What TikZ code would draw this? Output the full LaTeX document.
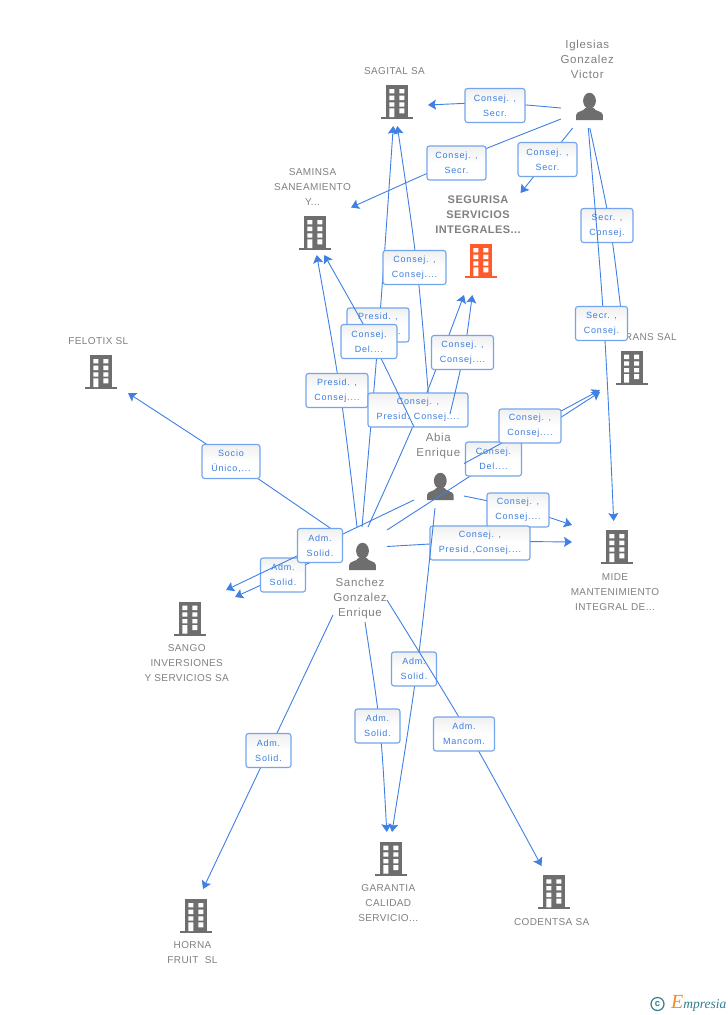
\documentclass[tikz,border=0pt]{standalone}
\usepackage{fontspec}
\usetikzlibrary{arrows.meta}
\setmainfont{Liberation Sans}
\newfontfamily\lblfont[LetterSpace=9]{Liberation Sans}
\newfontfamily\compfont[LetterSpace=4]{Liberation Sans}
\newfontfamily\persfont[LetterSpace=6]{Liberation Sans}
\newfontfamily\logofont{Liberation Serif}
\definecolor{edgeblue}{HTML}{3F80E4}
\definecolor{lblborder}{HTML}{74A5EC}
\definecolor{lbltext}{HTML}{3B7DE0}
\definecolor{namegray}{HTML}{808080}
\definecolor{icongray}{HTML}{6E6E6E}
\definecolor{segorange}{HTML}{FF5A2C}
\definecolor{logoteal}{HTML}{2F7F8F}
\definecolor{logoorange}{HTML}{F58A1F}
\newcommand{\bldgshape}[1]{%
  \fill[#1] (-11,-34) rectangle (11,-2);
  \fill[#1] (-16,-2) rectangle (16,0);
  \fill[white] (-7.7,-30) rectangle (-2.7,-25.7) (2.3,-30) rectangle (7.3,-25.7)
    (-7.7,-23.3) rectangle (-2.7,-19) (2.3,-23.3) rectangle (7.3,-19)
    (-7.7,-16.7) rectangle (-2.7,-12.3) (2.3,-16.7) rectangle (7.3,-12.3)
    (-7.7,-10.7) rectangle (-2.7,-2) (2.3,-10.7) rectangle (7.3,-5.7);
}
\tikzset{
  bldg/.pic={\bldgshape{icongray}},
  segbldg/.pic={\bldgshape{segorange}},
  person/.pic={
    \fill[icongray] (0,-19.2) ellipse[x radius=6.4,y radius=8];
    \fill[icongray] (-13.3,0) -- (-13.3,-5) .. controls (-13.3,-9) and (-5.5,-8.5) .. (-4,-12)
      -- (4,-12) .. controls (5.5,-8.5) and (13.3,-9) .. (13.3,-5) -- (13.3,0) -- cycle;
  },
  port/.style={rectangle,inner sep=0,outer sep=0},
  compname/.style={inner sep=0,text=namegray,align=center,font=\compfont\fontsize{10}{15}\selectfont},
  persname/.style={inner sep=0,text=namegray,align=center,font=\persfont\fontsize{11.5}{15}\selectfont},
  mainname/.style={inner sep=0,text=namegray,align=center,font=\compfont\bfseries\fontsize{11}{15}\selectfont},
  rel/.style={draw=lblborder,line width=1.1pt,rounded corners=2.5pt,top color=black!6,bottom color=white,middle color=white,
    inner sep=0,outer sep=0,text=lbltext,align=center,font=\lblfont\fontsize{9}{15}\selectfont,minimum height=34},
  edge/.style={draw=edgeblue,line width=0.9pt,-{Stealth[length=8,width=10,inset=1.5]}},
}
\begin{document}
\begin{tikzpicture}[x=1pt,y=-1pt]
\useasboundingbox (0,0) rectangle (728,1015);
\fill[white] (0,0) rectangle (728,1015);
% invisible entity boxes
\node[port,minimum width=66,minimum height=64] (sagital) at (395,94) {};
\node[port,minimum width=72,minimum height=92] (saminsa) at (315,209) {};
\node[port,minimum width=87,minimum height=102] (segurisa) at (478.5,244) {};
\node[port,minimum width=60,minimum height=61] (felotix) at (98,362.5) {};
\node[port,minimum width=80,minimum height=64] (trans) at (640,360) {};
\node[port,minimum width=88,minimum height=101] (mide) at (616,571.5) {};
\node[port,minimum width=92,minimum height=97] (sango) at (189,638.5) {};
\node[port,minimum width=62,minimum height=94] (garantia) at (389,879) {};
\node[port,minimum width=79,minimum height=64] (codentsa) at (552.5,898) {};
\node[port,minimum width=50,minimum height=79] (horna) at (193,928.5) {};
\node[port,minimum width=56,minimum height=90] (iglesias) at (589,83) {};
\node[port,minimum width=50,minimum height=94] (abia) at (439,461) {};
\node[port,minimum width=54,minimum height=95] (sanchez) at (360,574.5) {};
% icons
\pic at (397,119) {bldg};
\pic at (315,250) {bldg};
\pic at (481,278) {segbldg};
\pic at (101,389) {bldg};
\pic at (631.7,384.7) {bldg};
\pic at (617,564) {bldg};
\pic at (190,635.7) {bldg};
\pic at (391,875.7) {bldg};
\pic at (554,909.3) {bldg};
\pic at (196,933) {bldg};
\pic at (589.5,120) {person};
\pic at (440.3,500) {person};
\pic at (362.5,570) {person};
% names
\node[compname] (sagital-t) at (394.5,71) {SAGITAL SA};
\node[compname] (saminsa-t) at (312.5,187) {SAMINSA\\SANEAMIENTO\\Y...};
\node[mainname] (segurisa-t) at (478,215) {SEGURISA\\SERVICIOS\\INTEGRALES...};
\node[compname] (felotix-t) at (98.3,341) {FELOTIX SL};
\node[compname,anchor=east] (trans-t) at (677,337) {RANS SAL};
\node[compname] (mide-t) at (615,592) {MIDE\\MANTENIMIENTO\\INTEGRAL DE...};
\node[compname] (sango-t) at (186.7,663) {SANGO\\INVERSIONES\\Y SERVICIOS SA};
\node[compname] (garantia-t) at (388.3,903) {GARANTIA\\CALIDAD\\SERVICIO...};
\node[compname] (codentsa-t) at (551.7,921.7) {CODENTSA SA};
\node[compname] (horna-t) at (192.5,952.5) {HORNA\\FRUIT\ \ SL};
\node[persname] (iglesias-t) at (587.3,59) {Iglesias\\Gonzalez\\Victor};
\node[persname] (abia-t) at (438.3,446) {Abia\\Enrique};
\node[persname] (sanchez-t) at (360,599) {Sanchez\\Gonzalez\\Enrique};
% edges and their labels, in stacking order
\draw[edge] ([yshift=-25]iglesias.west) .. controls (493,102) .. ([yshift=-11]sagital.east);
\node[rel,minimum width=60] (l1) at (495,105.5) {Consej. ,\\Secr.};
\draw[edge] ([yshift=-36]iglesias.west) .. controls (456,160.2) .. ([yshift=1.5]saminsa.east);
\node[rel,minimum width=59] (l2) at (456.5,163) {Consej. ,\\Secr.};
\draw[edge] ([xshift=-16.3]iglesias.south) -- ([xshift=42]segurisa.north);
\node[rel,minimum width=59] (l3) at (547.5,159.5) {Consej. ,\\Secr.};
\draw[edge] ([xshift=0.8]iglesias.south) .. controls (611,225) .. ([xshift=-17]trans.north);
\node[rel,minimum width=52] (l4) at (607,225.5) {Secr. ,\\Consej.};
\draw[edge] ([xshift=-0.7]iglesias.south) .. controls (605,325) .. ([xshift=-2.3]mide.north);
\node[rel,minimum width=52] (l5) at (601.5,323.5) {Secr. ,\\Consej.};
\draw[edge] ([xshift=-3]sanchez.north) .. controls (341,390.8) .. ([xshift=1.7]saminsa.south);
\node[rel,minimum width=62] (l6) at (337,390.5) {Presid. ,\\Consej....};
\draw[edge] ([xshift=2]sanchez.north) .. controls (379.5,327) .. ([xshift=-1.7]sagital.south);
\node[rel,minimum width=62] (l7) at (378,325) {Presid. ,\\Consej....};
\draw[edge] ([xshift=-9]abia.north) .. controls (418,266) .. ([xshift=2.3]sagital.south);
\node[rel,minimum width=63] (l8) at (414.5,267.5) {Consej. ,\\Consej....};
\draw[edge] ([xshift=8]sanchez.north) .. controls (421,409.7) .. ([xshift=-14.5]segurisa.south);
\node[rel,minimum width=100] (l9) at (418,410) {Consej. ,\\Presid. Consej....};
\draw[edge] ([yshift=34]abia.west) .. controls (373,340.8) .. ([xshift=9.3]saminsa.south);
\node[rel,minimum width=56] (l10) at (369,341.5) {Consej.\\Del....};
\draw[edge] ([xshift=11]abia.north) .. controls (465,351) .. ([xshift=-6.2]segurisa.south);
\node[rel,minimum width=62] (l11) at (462.5,352.5) {Consej. ,\\Consej....};
\draw[edge] ([yshift=44.5]sanchez.east) -- (trans.south west);
\node[rel,minimum width=56] (l12) at (493.5,459) {Consej.\\Del....};
\draw[edge] ([yshift=-2.5]abia.east) -- ([yshift=-30]trans.west);
\node[rel,minimum width=62] (l13) at (530,426) {Consej. ,\\Consej....};
\draw[edge] ([yshift=-35]abia.east) .. controls (518,507) .. ([yshift=46.5]mide.west);
\node[rel,minimum width=62] (l14) at (518,510) {Consej. ,\\Consej....};
\draw[edge] ([yshift=28]sanchez.east) .. controls (480,541) .. ([yshift=29.5]mide.west);
\node[rel,minimum width=100] (l15) at (480,543) {Consej. ,\\Presid.,Consej....};
\draw[edge] ([yshift=-3]sanchez.north west) .. controls (231,460) .. (felotix.south east);
\node[rel,minimum width=58] (l16) at (231,461.5) {Socio\\Único,...};
\draw[edge] ([yshift=22.5]sanchez.west) -- ([yshift=41.5]sango.east);
\node[rel,minimum width=45] (l17) at (283,575) {Adm.\\Solid.};
\draw[edge] ([yshift=-39]abia.west) -- ([xshift=37]sango.north);
\node[rel,minimum width=45] (l18) at (320,545.5) {Adm.\\Solid.};
\draw[edge] ([xshift=-4]abia.south) .. controls (418,668.7) .. ([xshift=3]garantia.north);
\node[rel,minimum width=45] (l19) at (414,669) {Adm.\\Solid.};
\draw[edge] ([xshift=5]sanchez.south) .. controls (381,727) .. ([xshift=-2.2]garantia.north);
\node[rel,minimum width=45] (l20) at (377.5,726) {Adm.\\Solid.};
\draw[edge] ([yshift=-25.5]sanchez.east) .. controls (469.5,733) .. ([xshift=-11]codentsa.north);
\node[rel,minimum width=61] (l21) at (464,734) {Adm.\\Mancom.};
\draw[edge] ([yshift=-40.5]sanchez.west) -- ([xshift=10]horna.north);
\node[rel,minimum width=45] (l22) at (268.5,750.5) {Adm.\\Solid.};
% logo
\node[draw=logoteal,line width=1.2pt,circle,inner sep=0,minimum size=13,text=logoteal,font=\bfseries\fontsize{9.5}{9.5}\selectfont] (logoc) at (657.5,1004) {c};
\node[inner sep=0,anchor=west,text=logoteal,font=\logofont\itshape\fontsize{13.5}{15}\selectfont] (logot) at (671,1003.5) {{\color{logoorange}\fontsize{20}{15}\selectfont E}mpresia};
\end{tikzpicture}
\end{document}
